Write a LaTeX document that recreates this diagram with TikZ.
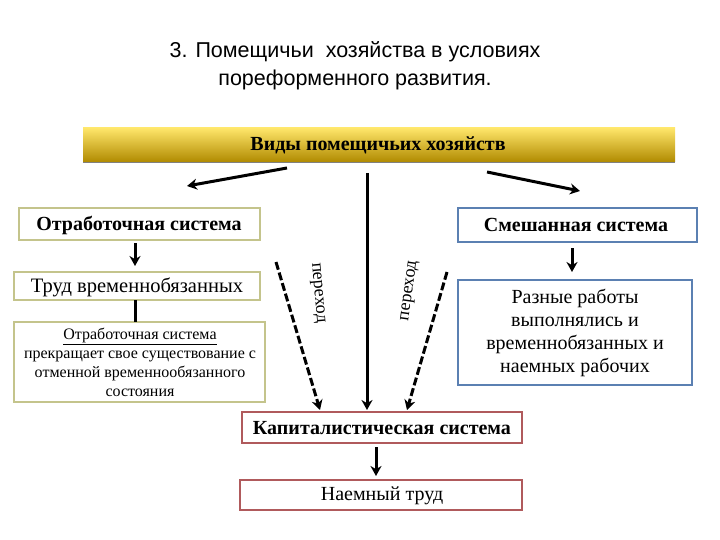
\documentclass[tikz,border=0pt]{standalone}
\usepackage{fontspec}
\setmainfont{Liberation Serif}
\newfontfamily\titlefont{Liberation Sans}
\usetikzlibrary{arrows.meta}
\definecolor{olivebd}{HTML}{C4C48C}
\definecolor{bluebd}{HTML}{5B80B2}
\definecolor{redbd}{HTML}{B05A5C}
\definecolor{goldtop}{HTML}{FFE66A}
\definecolor{goldbot}{HTML}{B08A00}
\begin{document}
\begin{tikzpicture}[x=1pt,y=-1pt,
  box/.style={draw=#1,line width=2pt,fill=white,inner sep=0pt},
  arr/.style={line width=3pt,-{Stealth[length=10pt,width=11pt]}},
  darr/.style={line width=3pt,dash pattern=on 8pt off 3pt,-{Stealth[length=10pt,width=11pt]}}]
\useasboundingbox (0,0) rectangle (720,540);
\node[font=\titlefont\fontsize{21.5}{28}\selectfont,align=center] (title) at (355,66) {3. Помещичьи\ \ хозяйства в условиях\\пореформенного развития.};
\shade[top color=goldtop,bottom color=goldbot] (83,128) rectangle (675,162);
\draw[gray,line width=1.5pt] (83,162.5) -- (675,162.5);
\node[font=\bfseries\fontsize{20}{22}\selectfont] (vid) at (378,145) {Виды помещичьих хозяйств};
\coordinate (s1) at (287,168); \coordinate (e1) at (187,186);
\coordinate (s2) at (367,173);
\coordinate (s3) at (487,172); \coordinate (e3) at (580,191);
\draw[arr] (s1) -- (e1);
\draw[arr] (s3) -- (e3);
% left
\draw[box=olivebd] (19,208) rectangle (260,240);
\node[font=\bfseries\fontsize{20}{22}\selectfont] (otr) at (139,225) {Отработочная система};
\draw[box=olivebd] (14,272) rectangle (260,300);
\node[font=\fontsize{20.5}{22}\selectfont] (trud) at (137,287) {Труд временнобязанных};
\draw[box=olivebd] (14,322) rectangle (265,402);
\node[font=\fontsize{16}{19}\selectfont,align=center] (prek) at (140,362) {\underline{Отработочная система}\\прекращает свое существование с\\отменной временнообязанного\\состояния};
\coordinate (o1) at (135,243); \coordinate (o2) at (135,266);
\draw[arr] (o1) -- (o2);
\coordinate (t1) at (135,300); \coordinate (t2) at (135,322);
\draw[line width=3pt] (t1) -- (t2);
% right
\draw[box=bluebd] (458,208) rectangle (697,242);
\node[font=\bfseries\fontsize{20}{22}\selectfont] (sme) at (576,225) {Смешанная система};
\draw[box=bluebd] (458,280) rectangle (692,385);
\node[font=\fontsize{20}{23}\selectfont,align=center] (raz) at (575,333) {Разные работы\\выполнялись и\\временнобязанных и\\наемных рабочих};
\coordinate (m1) at (572,248); \coordinate (m2) at (572,272);
\draw[arr] (m1) -- (m2);
% bottom
\draw[box=redbd] (242,412) rectangle (522,443);
\node[font=\bfseries\fontsize{20}{22}\selectfont] (kap) at (382,428) {Капиталистическая система};
\draw[box=redbd] (240,480) rectangle (522,510);
\node[font=\fontsize{20}{22}\selectfont] (naem) at (382,496) {Наемный труд};
\draw[arr] (s2) -- (367,410);
\coordinate (d1) at (276,262); \coordinate (d1e) at (320,410);
\coordinate (d2) at (447,272); \coordinate (d2e) at (407,410);
\draw[darr] (d1) -- (d1e);
\draw[darr] (d2) -- (d2e);
\node[rotate=-85,font=\fontsize{18}{20}\selectfont] (p1) at (317,293) {переход};
\node[rotate=82,font=\fontsize{18}{20}\selectfont] (p2) at (410,291) {переход};
\coordinate (k1) at (376,447); \coordinate (k2) at (376,476);
\draw[arr] (k1) -- (k2);
\end{tikzpicture}
\end{document}
